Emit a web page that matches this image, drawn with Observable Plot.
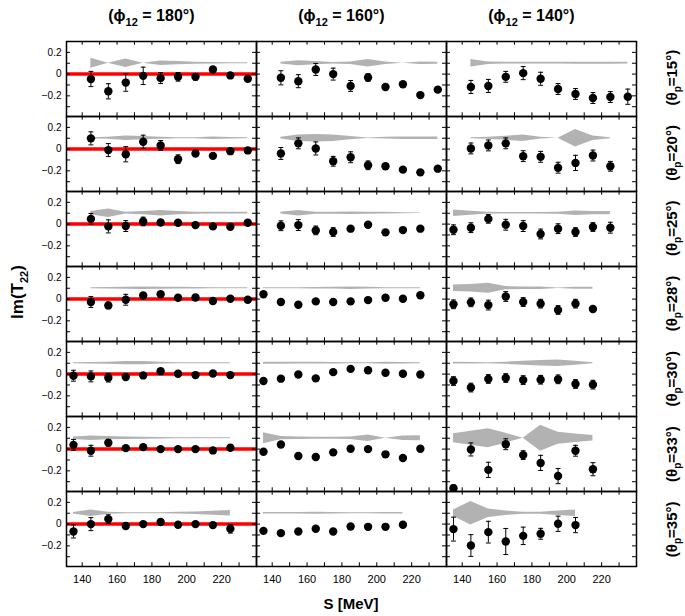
<!DOCTYPE html>
<html><head><meta charset="utf-8">
<script src="https://cdn.jsdelivr.net/npm/d3@7"></script>
<script src="https://cdn.jsdelivr.net/npm/@observablehq/plot@0.6"></script>
<style>body{margin:0;background:#fff} svg{display:block}</style>
</head><body><div id="chart"></div>
<script>
const phis = [180, 160, 140];
const thetas = [15, 20, 25, 28, 30, 33, 35];
const energies = [135, 145, 155, 165, 175, 185, 195, 205, 215, 225, 235];
const xTickLabels = [140, 160, 180, 200, 220];
const xTickMarks = [140, 150, 160, 170, 180, 190, 200, 210, 220, 230];
const yTickLabels = [-0.2, 0, 0.2];
const yTickMarks = [-0.3, -0.2, -0.1, 0, 0.1, 0.2];
const bandCenter = 0.1;

// index into energies of the first point, per row (theta)
const start180 = [1, 1, 1, 1, 0, 0, 0];
const start160 = [1, 1, 1, 0, 0, 0, 0];
const start140 = [1, 1, 0, 0, 0, 0, 0];

const values180 = [
  [-0.045, -0.158, -0.078, -0.016, -0.037, -0.025, -0.025, 0.043, -0.012, -0.043],
  [0.099, -0.009, -0.047, 0.068, 0.034, -0.093, -0.04, -0.062, -0.019, -0.012],
  [0.048, -0.021, -0.018, 0.024, 0.015, 0.012, -0.009, -0.021, -0.024, 0.012],
  [-0.027, -0.058, -0.006, 0.033, 0.045, 0.012, 0.015, -0.018, 0.003, -0.006],
  [-0.015, -0.021, -0.033, -0.027, -0.012, 0.027, 0.003, -0.009, 0.006, -0.009],
  [0.039, -0.015, 0.058, 0.009, 0.018, 0.0, 0.0, 0.0, -0.012, 0.012],
  [-0.068, 0.0, 0.046, -0.018, 0.0, 0.02, -0.006, 0.0, -0.009, -0.043]
];
const errors180 = [
  [0.07, 0.07, 0.08, 0.08, 0.05, 0.04, 0.03, 0.015, 0.015, 0.015],
  [0.06, 0.06, 0.07, 0.06, 0.045, 0.04, 0.02, 0.015, 0.015, 0.015],
  [0.05, 0.06, 0.05, 0.04, 0.02, 0.015, 0.015, 0.015, 0.015, 0.015],
  [0.05, 0.03, 0.05, 0.015, 0.015, 0.015, 0.015, 0.015, 0.015, 0.015],
  [0.05, 0.05, 0.04, 0.02, 0.015, 0.015, 0.015, 0.015, 0.015, 0.015],
  [0.05, 0.05, 0.03, 0.015, 0.015, 0.015, 0.015, 0.015, 0.015, 0.015],
  [0.06, 0.06, 0.04, 0.015, 0.015, 0.015, 0.015, 0.015, 0.015, 0.04]
];
const band180 = [
  [0.045, 0.0, 0.04, 0.0, 0.02, 0.015, 0.01, 0.006, 0.005, 0.005],
  [0.005, 0.01, 0.02, 0.015, 0.01, 0.005, 0.005, 0.012, 0.006, 0.004],
  [0.015, 0.04, 0.008, 0.015, 0.025, 0.015, 0.01, 0.008, 0.008, 0.008],
  [0.005, 0.006, 0.01, 0.012, 0.01, 0.008, 0.006, 0.005, 0.005, 0.005],
  [0.004, 0.006, 0.01, 0.015, 0.015, 0.008, 0.005, 0.004, 0.004, 0.004],
  [0.012, 0.02, 0.015, 0.012, 0.01, 0.006, 0.004, 0.004, 0.004, 0.004],
  [0.006, 0.03, 0.01, 0.005, 0.004, 0.005, 0.008, 0.012, 0.018, 0.025]
];

const values160 = [
  [-0.034, -0.065, 0.043, 0.0, -0.109, -0.031, -0.118, -0.093, -0.193, -0.143],
  [-0.04, 0.053, 0.006, -0.112, -0.075, -0.149, -0.158, -0.189, -0.214, -0.18],
  [-0.015, -0.009, -0.058, -0.073, -0.042, -0.006, -0.076, -0.055, -0.042],
  [0.045, -0.027, -0.052, -0.021, -0.027, -0.021, -0.009, 0.012, 0.003, 0.036],
  [-0.064, -0.042, -0.003, -0.039, 0.018, 0.048, 0.036, 0.012, 0.003, -0.003],
  [-0.024, 0.042, -0.064, -0.073, -0.03, 0.003, 0.0, -0.048, -0.082, 0.003],
  [-0.062, -0.083, -0.068, -0.043, -0.068, -0.022, -0.025, -0.025, -0.006]
];
const errors160 = [
  [0.065, 0.06, 0.055, 0.055, 0.05, 0.035, 0.02, 0.015, 0.015, 0.015],
  [0.055, 0.05, 0.06, 0.045, 0.05, 0.04, 0.015, 0.015, 0.015, 0.015],
  [0.045, 0.05, 0.04, 0.04, 0.02, 0.015, 0.015, 0.015, 0.015],
  [0.015, 0.015, 0.015, 0.015, 0.015, 0.015, 0.015, 0.015, 0.015, 0.015],
  [0.015, 0.015, 0.015, 0.015, 0.015, 0.015, 0.015, 0.015, 0.015, 0.015],
  [0.015, 0.015, 0.015, 0.015, 0.015, 0.015, 0.015, 0.015, 0.015, 0.015],
  [0.015, 0.015, 0.015, 0.015, 0.015, 0.015, 0.015, 0.015, 0.015]
];
const band160 = [
  [0.008, 0.022, 0.015, 0.006, 0.012, 0.035, 0.012, 0.0, 0.012, 0.01],
  [0.008, 0.03, 0.035, 0.03, 0.015, 0.003, 0.008, 0.012, 0.012, 0.012],
  [0.008, 0.025, 0.01, 0.01, 0.012, 0.01, 0.008, 0.005, 0.003],
  [0.004, 0.004, 0.004, 0.006, 0.008, 0.012, 0.008, 0.004, 0.004, 0.004],
  [0.01, 0.01, 0.008, 0.008, 0.006, 0.005, 0.005, 0.01, 0.006, 0.004],
  [0.05, 0.015, 0.012, 0.01, 0.01, 0.012, 0.03, 0.0, 0.02, 0.022],
  [0.006, 0.006, 0.006, 0.01, 0.006, 0.005, 0.005, 0.006, 0.006]
];

const values140 = [
  [-0.118, -0.109, -0.025, 0.009, -0.043, -0.137, -0.183, -0.22, -0.211, -0.208],
  [0.006, 0.034, 0.053, -0.065, -0.071, -0.171, -0.127, -0.059, -0.158],
  [-0.052, -0.033, 0.048, -0.006, -0.018, -0.091, -0.042, -0.073, -0.027, -0.033],
  [-0.048, -0.03, -0.055, 0.024, -0.027, -0.042, -0.1, -0.042, -0.091],
  [-0.064, -0.124, -0.045, -0.036, -0.055, -0.052, -0.048, -0.091, -0.097],
  [-0.36, -0.003, -0.191, 0.045, -0.055, -0.127, -0.248, -0.015, -0.185],
  [-0.046, -0.197, -0.074, -0.16, -0.108, -0.089, 0.003, -0.009]
];
const errors140 = [
  [0.06, 0.06, 0.05, 0.06, 0.06, 0.05, 0.05, 0.05, 0.05, 0.07],
  [0.05, 0.05, 0.05, 0.05, 0.05, 0.05, 0.07, 0.05, 0.045],
  [0.045, 0.045, 0.04, 0.05, 0.05, 0.045, 0.045, 0.04, 0.04, 0.05],
  [0.04, 0.04, 0.045, 0.045, 0.04, 0.04, 0.04, 0.04, 0.015],
  [0.04, 0.04, 0.04, 0.04, 0.04, 0.04, 0.04, 0.04, 0.04],
  [0.03, 0.06, 0.07, 0.05, 0.04, 0.07, 0.07, 0.05, 0.06],
  [0.11, 0.1, 0.1, 0.12, 0.08, 0.05, 0.07, 0.07]
];
const band140 = [
  [0.035, 0.012, 0.008, 0.008, 0.008, 0.008, 0.01, 0.01, 0.01, 0.008],
  [0.004, 0.01, 0.018, 0.03, 0.008, 0.0, 0.08, 0.02, 0.004],
  [0.03, 0.018, 0.008, 0.006, 0.006, 0.006, 0.01, 0.02, 0.015, 0.015],
  [0.03, 0.035, 0.045, 0.015, 0.012, 0.012, 0.003, 0.01, 0.01],
  [0.008, 0.006, 0.004, 0.01, 0.018, 0.025, 0.03, 0.018, 0.005],
  [0.042, 0.065, 0.087, 0.045, 0.0, 0.12, 0.055, 0.04, 0.025],
  [0.03, 0.108, 0.04, 0.02, 0.01, 0.01, 0.02, 0.03]
];

// ---- build tables ----
const columns = [
  {phi: 180, start: start180, v: values180, e: errors180, b: band180},
  {phi: 160, start: start160, v: values160, e: errors160, b: band160},
  {phi: 140, start: start140, v: values140, e: errors140, b: band140}
];
const points = [], bands = [];
columns.forEach(c => thetas.forEach((t, i) => {
  c.v[i].forEach((v, j) => points.push({phi: c.phi, theta: t, s: energies[c.start[i] + j], v, e: c.e[i][j]}));
  c.b[i].forEach((w, j) => bands.push({phi: c.phi, theta: t, s: energies[c.start[i] + j], lo: bandCenter - w, hi: bandCenter + w}));
}));
const redLines = thetas.map(t => ({phi: 180, theta: t, y: 0}));

const W = 685, H = 616, mL = 66, mR = 49, mT = 40, mB = 49;
const panelW = (W - mL - mR) / phis.length, panelH = (H - mT - mB) / thetas.length;
const tk = 4, cap = 1.4;
const font = "'Liberation Sans', Arial, Helvetica, sans-serif";
const fmt = d => d === 0 ? "0" : d.toFixed(1).replace("-", "\u2212");

const chart = Plot.plot({
  width: W, height: H,
  marginLeft: mL, marginRight: mR, marginTop: mT, marginBottom: mB,
  style: {fontFamily: font, background: "white", color: "black", overflow: "visible"},
  fx: {domain: phis, padding: 0, axis: null},
  fy: {domain: thetas, padding: 0, axis: null},
  x: {domain: [131, 240]},
  y: {domain: [-0.39, 0.3]},
  marks: [
    Plot.areaY(bands, {x: "s", y1: "lo", y2: "hi", fx: "phi", fy: "theta", fill: "#b2b2b2", curve: "linear"}),
    Plot.ruleY(redLines, {y: "y", fx: "phi", fy: "theta", stroke: "#ff0000", strokeWidth: 3.5}),
    Plot.ruleX(points, {x: "s", y1: d => d.v - d.e, y2: d => d.v + d.e, fx: "phi", fy: "theta", stroke: "black", strokeWidth: 1, clip: true}),
    Plot.link(points, {x1: d => d.s - cap, x2: d => d.s + cap, y1: d => d.v + d.e, y2: d => d.v + d.e, fx: "phi", fy: "theta", stroke: "black", strokeWidth: 1, clip: true}),
    Plot.link(points, {x1: d => d.s - cap, x2: d => d.s + cap, y1: d => d.v - d.e, y2: d => d.v - d.e, fx: "phi", fy: "theta", stroke: "black", strokeWidth: 1, clip: true}),
    Plot.dot(points, {x: "s", y: "v", fx: "phi", fy: "theta", r: 4.2, fill: "black", clip: true}),
    Plot.tickX(xTickMarks, {x: d => d, insetTop: panelH - tk, stroke: "black", strokeWidth: 1}),
    Plot.tickX(xTickMarks, {x: d => d, insetBottom: panelH - tk, stroke: "black", strokeWidth: 1}),
    Plot.tickY(yTickMarks, {y: d => d, insetRight: panelW - tk, stroke: "black", strokeWidth: 1}),
    Plot.tickY(yTickMarks, {y: d => d, insetLeft: panelW - tk, stroke: "black", strokeWidth: 1}),
    Plot.frame({stroke: "black", strokeWidth: 1.5}),
    Plot.axisX(xTickLabels, {anchor: "bottom", tickSize: 0, tickPadding: 9, fontSize: 11, label: null}),
    Plot.axisY(yTickLabels, {anchor: "left", tickSize: 0, tickPadding: 5, fontSize: 10, label: null, tickFormat: fmt})
  ]
});
document.getElementById("chart").appendChild(chart);

// ---- titles with subscripts ----
const svg = d3.select(chart);
const g = svg.append("g").attr("font-family", font).attr("font-weight", "bold").attr("fill", "black");
phis.forEach((p, i) => {
  const cx = mL + i * panelW + (180 - 131) / (240 - 131) * panelW;
  const t = g.append("text").attr("x", cx).attr("y", 21).attr("text-anchor", "middle").attr("font-size", 16);
  t.append("tspan").text("(\u03d5");
  t.append("tspan").attr("font-size", 11).attr("dy", 5).text("12");
  t.append("tspan").attr("dy", -5).text(` = ${p}\u00b0)`);
});
thetas.forEach((th, i) => {
  const cy = mT + (i + 0.5) * panelH;
  const t = g.append("text").attr("transform", `translate(677,${cy}) rotate(-90)`).attr("text-anchor", "middle").attr("font-size", 15);
  t.append("tspan").text("(\u03b8");
  t.append("tspan").attr("font-size", 10).attr("dy", 4).text("p");
  t.append("tspan").attr("dy", -4).text(`=${th}\u00b0)`);
});
const yl = g.append("text").attr("transform", "translate(23,292) rotate(-90)").attr("text-anchor", "middle").attr("font-size", 17);
yl.append("tspan").text("Im(T");
yl.append("tspan").attr("font-size", 11).attr("dy", 5).text("22");
yl.append("tspan").attr("dy", -5).text(")");
g.append("text").attr("x", mL + 1.5 * panelW).attr("y", 609).attr("text-anchor", "middle").attr("font-size", 15).text("S [MeV]");
</script>
</body></html>
